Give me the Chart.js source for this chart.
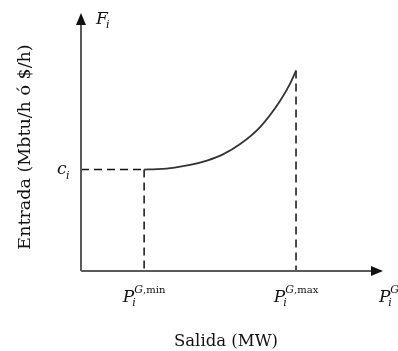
<!DOCTYPE html>
<html>
<head>
<meta charset="utf-8">
<script src="https://cdn.jsdelivr.net/npm/chart.js@4.4.1/dist/chart.umd.min.js"></script>
<style>
  html, body { margin: 0; padding: 0; background: #fff; }
</style>
</head>
<body>
<canvas id="costChart" width="398" height="351"></canvas>
<script>
// curve (arbitrary units, 0..100 on both axes)
const curveX = [20.9, 25.2, 30.5, 36.1, 41.7, 47.0, 52.7, 59.3, 65.9, 69.2, 71.2];
const curveY = [39.3, 39.5, 40.0, 41.1, 42.8, 45.2, 49.2, 55.8, 65.9, 72.5, 77.7];
const pMin = 20.9;
const pMax = 71.2;
const cLevel = 39.3;
const xTicks = [pMin, pMax, 100];
const xTickSup = ['G,min', 'G,max', 'G'];
const yAxisTitle = 'Entrada (Mbtu/h ó $/h)';
const xAxisTitle = 'Salida (MW)';

const SERIF = '"DejaVu Serif", "Liberation Serif", serif';

function pts(xs, ys) {
    return xs.map((x, i) => ({ x: x, y: ys[i] }));
}

// draws P_i^{G,...} style label, centred on cx
function drawSymbol(ctx, cx, y, main, sub, sup) {
    ctx.font = 'italic 17px ' + SERIF;
    const wMain = ctx.measureText(main).width;
    ctx.font = 'italic 11px ' + SERIF;
    const wSub = sub ? ctx.measureText(sub).width : 0;
    let wSup = 0;
    if (sup) {
        ctx.font = 'italic 11px ' + SERIF;
        wSup += ctx.measureText(sup[0]).width;
        ctx.font = '10px ' + SERIF;
        wSup += ctx.measureText(sup.slice(1)).width;
    }
    const total = wMain + Math.max(wSub, wSup);
    let x = cx - total / 2;
    ctx.textAlign = 'left';
    ctx.textBaseline = 'alphabetic';
    ctx.font = 'italic 17px ' + SERIF;
    ctx.fillText(main, x, y);
    x += wMain;
    if (sub) {
        ctx.font = 'italic 11px ' + SERIF;
        ctx.fillText(sub, x - 2, y + 4);
    }
    if (sup) {
        ctx.font = 'italic 11px ' + SERIF;
        ctx.fillText(sup[0], x, y - 9);
        const wg = ctx.measureText(sup[0]).width;
        ctx.font = '10px ' + SERIF;
        ctx.fillText(sup.slice(1), x + wg, y - 9);
    }
}

const axesPlugin = {
    id: 'axesPlugin',
    afterDraw(chart) {
        const ctx = chart.ctx;
        const xs = chart.scales.x;
        const ys = chart.scales.y;
        const x0 = xs.getPixelForValue(0);
        const y0 = ys.getPixelForValue(0);
        const xEnd = xs.getPixelForValue(100);
        const yEnd = ys.getPixelForValue(100);
        ctx.save();
        // axes
        ctx.strokeStyle = '#5a5a5a';
        ctx.lineWidth = 2;
        ctx.beginPath();
        ctx.moveTo(x0, y0);
        ctx.lineTo(xEnd - 8, y0);
        ctx.moveTo(x0, y0);
        ctx.lineTo(x0, yEnd + 8);
        ctx.stroke();
        // arrow heads
        ctx.fillStyle = '#111';
        ctx.beginPath();
        ctx.moveTo(xEnd, y0);
        ctx.lineTo(xEnd - 12, y0 - 5);
        ctx.lineTo(xEnd - 12, y0 + 5);
        ctx.closePath();
        ctx.fill();
        ctx.beginPath();
        ctx.moveTo(x0, yEnd);
        ctx.lineTo(x0 - 5, yEnd + 12);
        ctx.lineTo(x0 + 5, yEnd + 12);
        ctx.closePath();
        ctx.fill();

        ctx.fillStyle = '#111';
        // F_i
        ctx.font = 'italic 17px ' + SERIF;
        ctx.textAlign = 'left';
        ctx.fillText('F', x0 + 15, yEnd + 11);
        ctx.font = 'italic 11px ' + SERIF;
        ctx.fillText('i', x0 + 25, yEnd + 15);
        // c_i
        const cy = ys.getPixelForValue(cLevel);
        ctx.font = 'italic 17px ' + SERIF;
        ctx.fillText('c', x0 - 24, cy + 4);
        ctx.font = 'italic 11px ' + SERIF;
        ctx.fillText('i', x0 - 15, cy + 9);

        // x tick labels
        xTicks.forEach((v, i) => {
            let px = xs.getPixelForValue(v);
            if (i === xTicks.length - 1) px = px + 6;
            drawSymbol(ctx, px, y0 + 31, 'P', 'i', xTickSup[i]);
        });

        // axis titles
        ctx.font = '16.5px ' + SERIF;
        ctx.textAlign = 'center';
        ctx.fillStyle = '#111';
        ctx.fillText(xAxisTitle, 226, 346);
        ctx.translate(30, 147);
        ctx.rotate(-Math.PI / 2);
        ctx.font = '17.5px ' + SERIF;
        ctx.fillText(yAxisTitle, 0, 0);
        ctx.restore();
    }
};

const dashStyle = {
    borderColor: '#111',
    borderWidth: 1.5,
    borderDash: [8, 5],
    pointRadius: 0,
    showLine: true,
    fill: false
};

new Chart(document.getElementById('costChart').getContext('2d'), {
    type: 'scatter',
    data: {
        datasets: [
            {
                label: 'F_i',
                data: pts(curveX, curveY),
                borderColor: '#333',
                borderWidth: 1.8,
                pointRadius: 0,
                showLine: true,
                fill: false,
                cubicInterpolationMode: 'monotone'
            },
            Object.assign({ label: 'c_i', data: pts([0, pMin], [cLevel, cLevel]) }, dashStyle),
            Object.assign({ label: 'min', data: pts([pMin, pMin], [cLevel, 0]) }, dashStyle),
            Object.assign({ label: 'max', data: pts([pMax, pMax], [curveY[curveY.length - 1], 0]) }, dashStyle)
        ]
    },
    options: {
        responsive: false,
        animation: false,
        layout: { padding: { left: 81, right: 15, top: 13, bottom: 80 } },
        plugins: { legend: { display: false }, tooltip: { enabled: false } },
        scales: {
            x: { type: 'linear', min: 0, max: 100, display: false },
            y: { type: 'linear', min: 0, max: 100, display: false }
        }
    },
    plugins: [axesPlugin]
});
</script>
</body>
</html>
